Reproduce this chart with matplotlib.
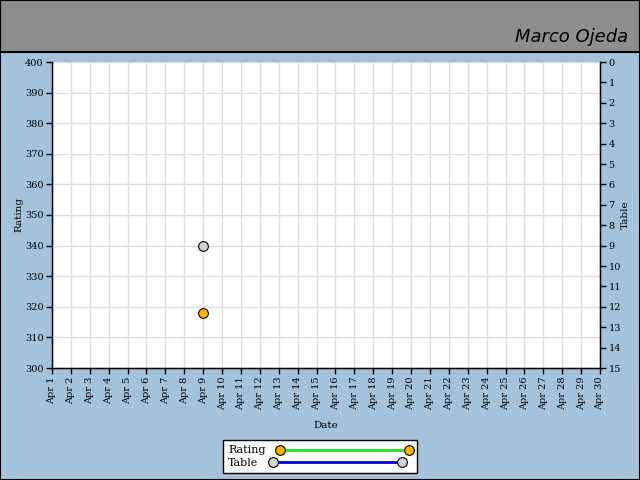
import matplotlib
matplotlib.use("Agg")
import matplotlib.pyplot as plt
from matplotlib.lines import Line2D
from matplotlib.patches import Rectangle

days = list(range(1, 31))
day_labels = [f"Apr {d}" for d in days]
rating_days = [9]
rating_values = [318]
table_days = [9]
table_values = [9]
title_text = "Marco Ojeda"

BG = "#a5c2dc"
HEADER = "#8e8e8e"
ORANGE = "#ffb400"
GRAYM = "#d3d3d3"
GREEN = "#22e622"
BLUE = "#0000d8"
FONT = "DejaVu Serif"
FS = 7

plt.rcParams['font.family'] = [FONT]
fig = plt.figure(figsize=(6.4, 4.8), dpi=100, facecolor=BG)

# header band
fig.patches.append(Rectangle((0, 1 - 52/480), 1, 52/480, transform=fig.transFigure,
                             facecolor=HEADER, edgecolor="black", linewidth=1.5, zorder=0))
fig.patches.append(Rectangle((0, 0), 1, 1, transform=fig.transFigure,
                             facecolor="none", edgecolor="black", linewidth=1.5, zorder=5))
fig.text(628/640, 1 - 37/480, title_text, ha="right", va="center", fontsize=13,
         family="DejaVu Sans", fontstyle="oblique", fontweight="light", color="black")

ax = fig.add_axes([52/640, 1 - 368/480, 548/640, 306/480])
ax.set_facecolor("white")
ax.set_xlim(1, 30)
ax.set_ylim(300, 400)
ax.set_xticks(days)
ax.set_xticklabels(day_labels, rotation=90, fontsize=FS)
ax.set_yticks(range(300, 401, 10))
ax.tick_params(axis="y", labelsize=FS, direction="out", length=4, width=1, pad=2)
ax.tick_params(axis="x", labelsize=FS, direction="out", length=4, width=1, pad=2)
ax.grid(True, color="#dcdcdc", linewidth=1)
ax.set_axisbelow(True)
ax.spines["top"].set_visible(False)
for s in ["left", "bottom", "right"]:
    ax.spines[s].set_linewidth(1)
ax.set_xlabel("Date", fontsize=FS + 0.5, labelpad=8)
ax.set_ylabel("Rating", fontsize=FS + 0.5, labelpad=1)

ax2 = ax.twinx()
ax2.set_ylim(15, 0)
ax2.set_yticks(range(0, 16))
ax2.tick_params(axis="y", labelsize=FS, direction="out", length=4, width=1, pad=2)
ax2.spines["top"].set_visible(False)
ax2.set_ylabel("Table", fontsize=FS + 0.5, labelpad=0)

ax.plot(rating_days, rating_values, color=GREEN, linewidth=2, marker="o", markersize=7,
        markerfacecolor=ORANGE, markeredgecolor="black", markeredgewidth=0.8, zorder=5)
ax2.plot(table_days, table_values, color=BLUE, linewidth=2, marker="o", markersize=7,
         markerfacecolor=GRAYM, markeredgecolor="black", markeredgewidth=0.8, zorder=5)

handles = [
    Line2D([], [], color=GREEN, linewidth=2, marker="o", markersize=7,
           markerfacecolor=ORANGE, markeredgecolor="black", markeredgewidth=0.8),
    Line2D([], [], color=BLUE, linewidth=2, marker="o", markersize=7,
           markerfacecolor=GRAYM, markeredgecolor="black", markeredgewidth=0.8),
]
leg = fig.legend(handles, ["Rating", "Table"], loc="center",
                 bbox_to_anchor=(320/640, 1 - 456.5/480), numpoints=2,
                 markerfirst=False, handlelength=12.2, fontsize=8, frameon=True,
                 fancybox=False, edgecolor="black", framealpha=1,
                 borderpad=0.45, labelspacing=0.2, handletextpad=1.0, borderaxespad=0)
leg.get_frame().set_linewidth(1)
for col in leg._legend_handle_box.get_children():
    col.align = "left"

fig.savefig("out.png", dpi=100, facecolor=BG)
